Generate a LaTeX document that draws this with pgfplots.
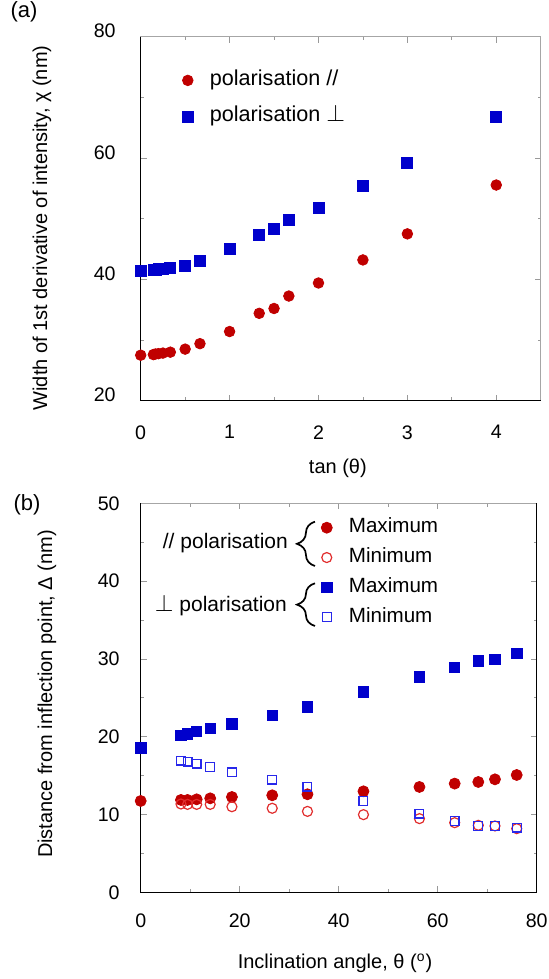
\documentclass[border=0pt]{standalone}
\usepackage{fontspec}
\setmainfont{Liberation Sans}
\usepackage{pgfplots}
\pgfplotsset{compat=1.18}
\usetikzlibrary{decorations.pathreplacing}

\definecolor{pred}{RGB}{192,0,0}
\definecolor{pblue}{RGB}{0,0,204}
\definecolor{predl}{RGB}{225,45,45}
\definecolor{pbluel}{RGB}{40,40,235}

\newcommand{\bigperp}{{\fontsize{12.5}{12}\selectfont$\perp$}}

% tan(theta) vs width chi
\pgfplotstableread{
x      par   perp
0      27.5  41.4
0.1429 27.6  41.5
0.1667 27.7  41.55
0.2    27.75 41.65
0.25   27.85 41.75
0.3333 28.0  41.85
0.5    28.5  42.25
0.6667 29.4  43.1
1      31.4  45.0
1.3333 34.4  47.3
1.5    35.2  48.3
1.6667 37.25 49.8
2      39.4  51.7
2.5    43.2  55.4
3      47.5  59.2
4      55.55 66.7
}\tantable

% angle vs distance, max and min
\pgfplotstableread{
ang    parmax permax
0      11.74  18.55
8.13   11.87  20.14
9.46   11.87  20.35
11.31  11.95  20.65
14.04  12.08  21.04
18.43  12.25  21.64
26.57  12.47  22.7
33.69  12.6   23.82
45     12.98  25.75
56.31  13.54  27.68
63.43  13.97  28.88
68.2   14.18  29.73
71.57  14.52  29.95
75.96  15.08  30.72
}\maxtable

\pgfplotstableread{
ang    parmin permin
8.13   11.35  16.92
9.46   11.3   16.8
11.31  11.3   16.54
14.04  11.3   16.07
18.43  11.0   15.42
26.57  10.8   14.48
33.69  10.4   13.58
45     9.98   11.74
56.31  9.47   10.11
63.43  8.95   9.13
68.2   8.61   8.53
71.57  8.53   8.53
75.96  8.18   8.31
}\mintable

\pgfplotsset{
  common/.style={
    scale only axis,
    clip=false,
    tick align=inside,
    axis line style={draw=gray!70, line width=0.5pt},
    major tick length=3pt, minor tick length=1.6pt,
    every tick/.style={gray!80, line width=0.4pt},
    tick label style={font=\fontsize{9.8}{11}\selectfont},
    label style={font=\fontsize{11.7}{13}\selectfont},
    /pgf/number format/assume math mode=true,
    legend image code/.code={\draw[##1] plot coordinates {(0pt,0pt)};},
    legend cell align=left,
    legend style={draw=none, fill=none, inner sep=0pt, outer sep=0pt,
      nodes={inner sep=0pt, text height=7.2pt, text depth=2.3pt},
      /tikz/every odd column/.append style={column sep=8.3pt}},
  },
}

\begin{document}
\begin{tikzpicture}
\useasboundingbox (0pt,0pt) rectangle (274.5pt,489.5pt);

\node[font=\fontsize{11}{12}\selectfont] at (12pt,483.5pt) {(a)};
\node[font=\fontsize{11}{12}\selectfont] at (13.5pt,237pt) {(b)};

\begin{axis}[common,
  at={(70.35pt,289.15pt)}, anchor=south west,
  width=200pt, height=182pt,
  xmin=0, xmax=4.5, ymin=20, ymax=80,
  xtick={0,1,2,3,4}, minor x tick num=1,
  ytick={20,40,60,80}, minor y tick num=1,
  yticklabel style={xshift=-9pt, yshift=2.8pt},
  xticklabel style={yshift=-8.8pt},
  xlabel={tan (θ)},
  ylabel={Width of 1st derivative of intensity, χ (nm)},
  every axis x label/.style={at={(axis description cs:0.493,-0.185)}, anchor=center},
  every axis y label/.style={at={(axis description cs:-0.2468,0.4745)}, rotate=90, anchor=center},
  legend style={at={(0.104,0.906)}, anchor=north west, row sep=8.7pt,
    font=\fontsize{10.8}{12}\selectfont},
]
\draw[black, line width=0.75pt] (rel axis cs:0,1) -- (rel axis cs:0,0) -- (rel axis cs:1,0);
\addplot[only marks, mark=*, mark size=2.65pt, color=pred] table[x=x, y=par] {\tantable};
\addlegendentry{polarisation //}
\addplot[only marks, mark=square*, mark size=2.75pt, color=pblue] table[x=x, y=perp] {\tantable};
\addlegendentry{polarisation \bigperp}
\end{axis}

\begin{axis}[common,
  at={(70.35pt,43.35pt)}, anchor=south west,
  width=198pt, height=194.5pt,
  xmin=0, xmax=80, ymin=0, ymax=50,
  xtick={0,20,40,60,80}, minor x tick num=1,
  ytick={0,10,20,30,40,50}, minor y tick num=1,
  yticklabel style={xshift=-7pt},
  xticklabel style={yshift=-7.2pt},
  xlabel={Inclination angle, θ (\textsuperscript{o})},
  ylabel={Distance from inflection point, Δ (nm)},
  every axis x label/.style={at={(axis description cs:0.4907,-0.1817)}, anchor=center},
  every axis y label/.style={at={(axis description cs:-0.2366,0.5098)}, rotate=90, anchor=center},
  legend style={at={(0.456,0.9617)}, anchor=north west, row sep=5.43pt,
    font=\fontsize{10.3}{12}\selectfont},
]
\draw[black, line width=0.75pt] (rel axis cs:0,1) -- (rel axis cs:0,0) -- (rel axis cs:1,0) -- (rel axis cs:1,1);
\addplot[only marks, mark=*, mark size=2.75pt, color=pred] table[x=ang, y=parmax] {\maxtable};
\addlegendentry{Maximum}
\addplot[only marks, mark=o, mark size=2.5pt, color=predl, line width=0.6pt] table[x=ang, y=parmin] {\mintable};
\addlegendentry{Minimum}
\addplot[only marks, mark=square*, mark size=2.6pt, color=pblue] table[x=ang, y=permax] {\maxtable};
\addlegendentry{Maximum}
\addplot[only marks, mark=square, mark size=2.2pt, color=pbluel, line width=0.6pt] table[x=ang, y=permin] {\mintable};
\addlegendentry{Minimum}
\draw[decorate, decoration={brace, amplitude=9pt}, line width=0.85pt]
  (axis cs:35.2,41.94) -- (axis cs:35.2,47.64);
\draw[decorate, decoration={brace, amplitude=9pt}, line width=0.85pt]
  (axis cs:35.2,34.23) -- (axis cs:35.2,39.72);
\node[anchor=east, inner sep=0pt, font=\fontsize{10.5}{12}\selectfont] at (axis cs:29.8,44.86) {// polarisation};
\node[anchor=east, inner sep=0pt, font=\fontsize{10.5}{12}\selectfont] at (axis cs:29.6,36.93) {\bigperp\ polarisation};
\end{axis}
\end{tikzpicture}
\end{document}
